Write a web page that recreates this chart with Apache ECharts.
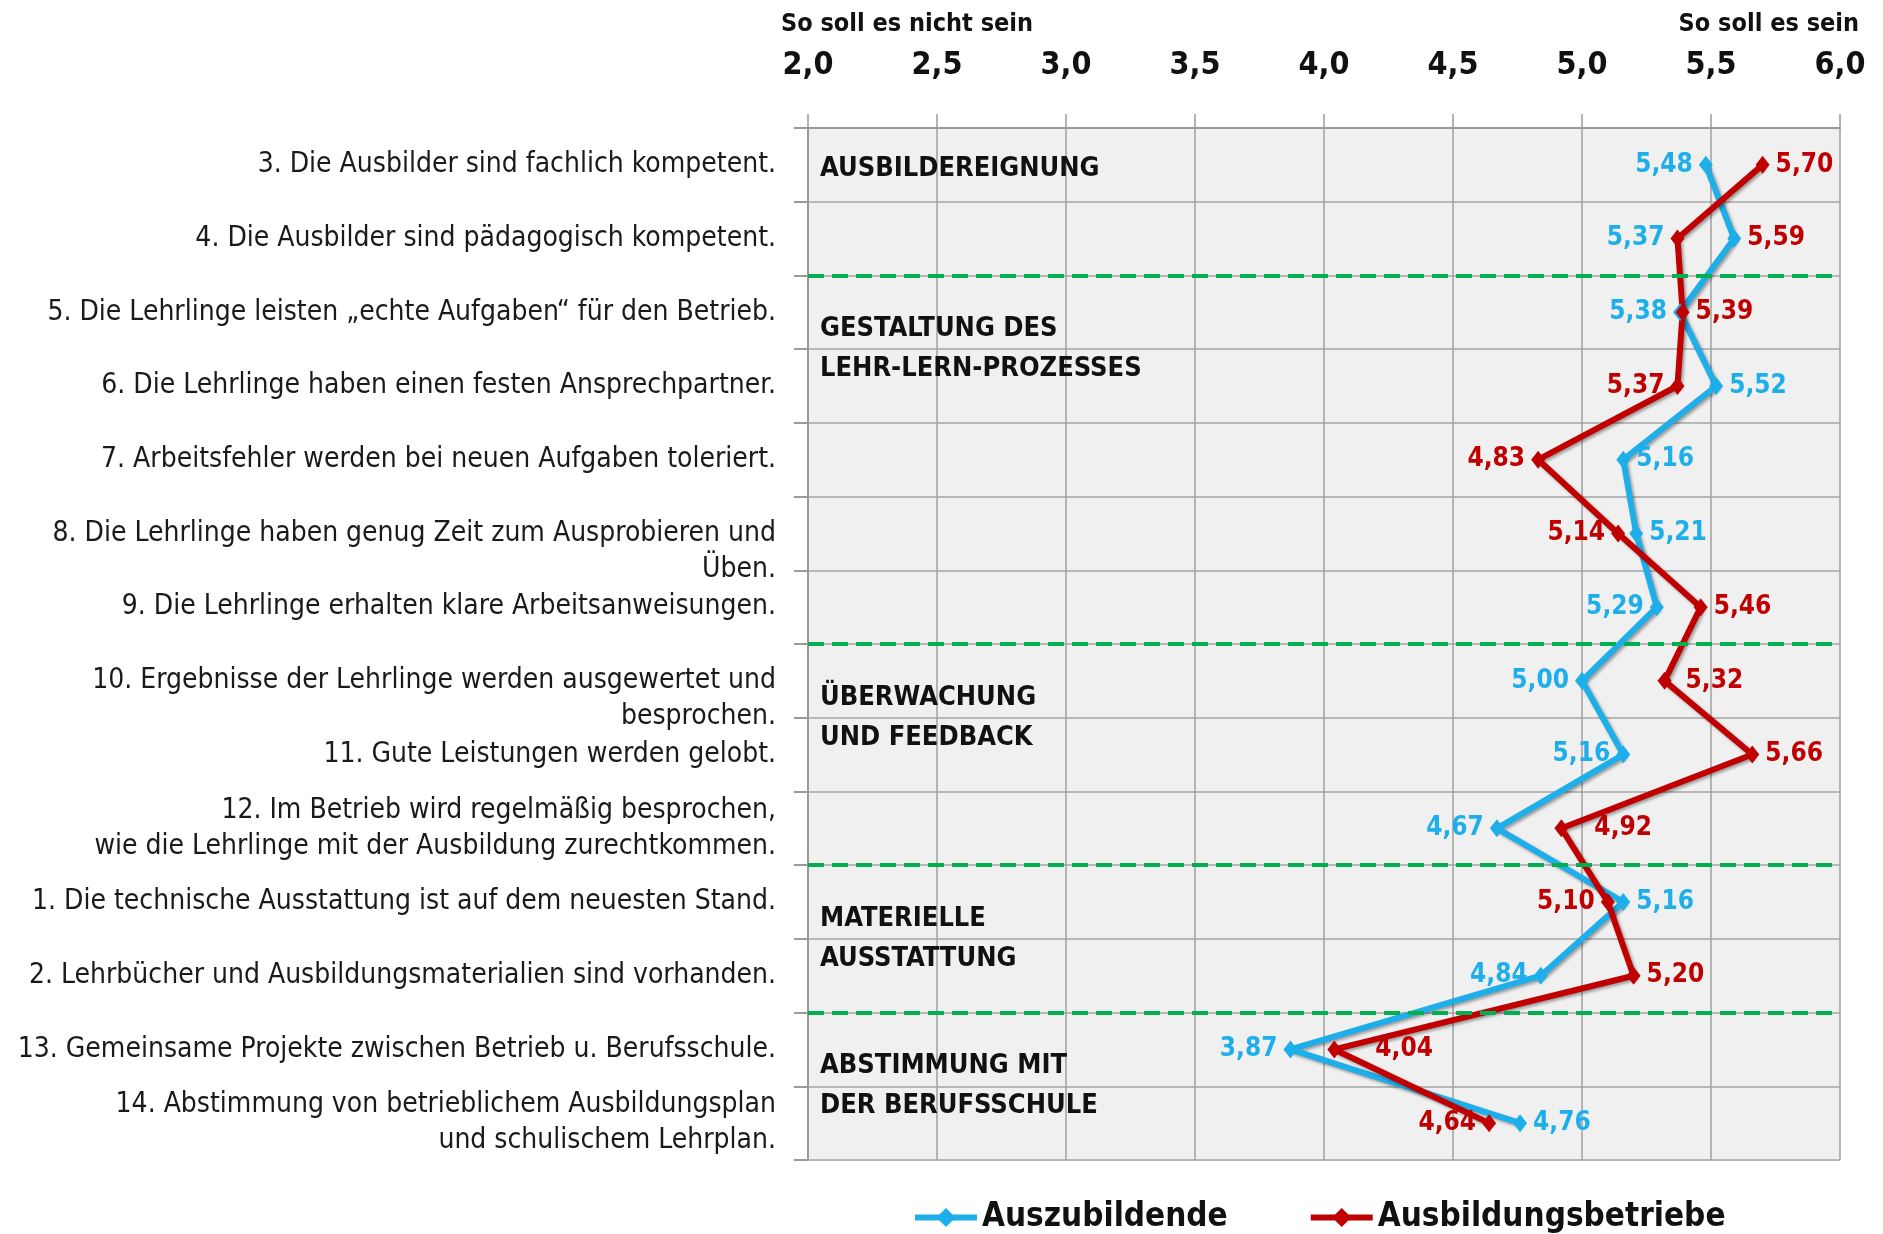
<!DOCTYPE html>
<html>
<head>
<meta charset="utf-8">
<script src="https://cdn.jsdelivr.net/npm/echarts@6/dist/echarts.min.js"></script>
<style>
  html, body { margin: 0; padding: 0; background: #fff; }
  #chart { width: 1883px; height: 1234px; }
</style>
</head>
<body>
<div id="chart"></div>
<script>
// Fragen (von oben nach unten)
const categories = [
  '3. Die Ausbilder sind fachlich kompetent.',
  '4. Die Ausbilder sind pädagogisch kompetent.',
  '5. Die Lehrlinge leisten „echte Aufgaben“ für den Betrieb.',
  '6. Die Lehrlinge haben einen festen Ansprechpartner.',
  '7. Arbeitsfehler werden bei neuen Aufgaben toleriert.',
  '\n8. Die Lehrlinge haben genug Zeit zum Ausprobieren und\nÜben.',
  '9. Die Lehrlinge erhalten klare Arbeitsanweisungen.',
  '\n10. Ergebnisse der Lehrlinge werden ausgewertet und\nbesprochen.',
  '11. Gute Leistungen werden gelobt.',
  '12. Im Betrieb wird regelmäßig besprochen,\nwie die Lehrlinge mit der Ausbildung zurechtkommen.',
  '1. Die technische Ausstattung ist auf dem neuesten Stand.',
  '2. Lehrbücher und Ausbildungsmaterialien sind vorhanden.',
  '13. Gemeinsame Projekte zwischen Betrieb u. Berufsschule.',
  '14. Abstimmung von betrieblichem Ausbildungsplan\nund schulischem Lehrplan.'
];

const auszubildende = [5.48, 5.59, 5.38, 5.52, 5.16, 5.21, 5.29, 5.00, 5.16, 4.67, 5.16, 4.84, 3.87, 4.76];
const betriebe      = [5.70, 5.37, 5.39, 5.37, 4.83, 5.14, 5.46, 5.32, 5.66, 4.92, 5.10, 5.20, 4.04, 4.64];

const seriesNames = ['Auszubildende', 'Ausbildungsbetriebe'];
const sectionNames = [
  'AUSBILDEREIGNUNG',
  'GESTALTUNG DES\nLEHR-LERN-PROZESSES',
  'ÜBERWACHUNG\nUND FEEDBACK',
  'MATERIELLE\nAUSSTATTUNG',
  'ABSTIMMUNG MIT\nDER BERUFSSCHULE'
];
const sectionBreaks = [2, 7, 10, 12];   // Grenzen zwischen den Zeilen
const sectionAnchors = [0.55, 3, 8, 11, 13];

const FONT = '"DejaVu Sans Condensed", "DejaVu Sans", sans-serif';
const BLUE = '#1EAEEA';
const RED = '#C00000';
const swapLabelColors = [1]; // im Original vertauschte Beschriftungsfarben
// etwas mehr Abstand bei einzelnen Beschriftungen (wie im Original)
const labelGap = { 1: { 9: 26, 12: 34, 7: 14 } };

const fmt = (v, d) => Number(v).toFixed(d).replace('.', ',');

function buildData(values, other, color, otherColor, s) {
  return values.map((v, i) => ({
    value: v,
    label: {
      position: v <= other[i] ? 'left' : 'right',
      distance: (labelGap[s] && labelGap[s][i]) || 6,
      color: swapLabelColors.includes(i) ? otherColor : color
    }
  }));
}

function lineSeries(s, values, other, color, otherColor) {
  return {
    name: seriesNames[s],
    type: 'line',
    data: buildData(values, other, color, otherColor, s),
    symbol: 'diamond',
    symbolSize: [14, 18],
    itemStyle: { color: color },
    lineStyle: {
      width: 6, color: color,
      shadowBlur: 3, shadowColor: 'rgba(0,0,0,0.35)', shadowOffsetX: 2, shadowOffsetY: 2
    },
    label: {
      show: true,
      fontFamily: FONT,
      fontSize: 26,
      fontWeight: 'bold',
      formatter: p => fmt(p.value, 2)
    },
    z: 3
  };
}

const chart = echarts.init(document.getElementById('chart'));

chart.setOption({
  animation: false,
  backgroundColor: '#fff',
  textStyle: { fontFamily: FONT },
  grid: {
    left: 808, right: 43, top: 128, bottom: 74,
    show: true, backgroundColor: '#f0f0f0', borderWidth: 0,
    outerBoundsMode: 'none'
  },
  legend: {
    left: 907, top: 1196,
    itemWidth: 62, itemHeight: 24, itemGap: 80,
    lineStyle: { width: 6 },
    textStyle: { fontFamily: FONT, fontSize: 33, fontWeight: 'bold', color: '#111' },
    data: seriesNames
  },
  xAxis: {
    type: 'value',
    position: 'top',
    min: 2, max: 6, interval: 0.5,
    axisLine: { show: true, lineStyle: { color: '#9a9a9a', width: 2 } },
    axisTick: { show: true, length: 14, lineStyle: { color: '#9a9a9a', width: 1.5 } },
    axisLabel: {
      margin: 46,
      fontFamily: FONT, fontSize: 32, fontWeight: 'bold', color: '#111',
      formatter: v => fmt(v, 1)
    },
    splitLine: { show: true, lineStyle: { color: '#a0a0a0', width: 1.5 } }
  },
  yAxis: [{
    type: 'category',
    inverse: true,
    data: categories,
    axisLine: { show: true, lineStyle: { color: '#9a9a9a', width: 2 } },
    axisTick: { show: true, length: 14, lineStyle: { color: '#9a9a9a', width: 2 } },
    axisLabel: {
      margin: 32,
      fontFamily: FONT, fontSize: 28, color: '#1a1a1a', lineHeight: 36,
      align: 'right'
    },
    splitLine: { show: true, lineStyle: { color: '#b8b8b8', width: 2 } }
  }, {
    type: 'value',
    show: false,
    inverse: true,
    min: 0, max: categories.length,
    splitLine: { show: false }
  }],
  series: [
    lineSeries(0, auszubildende, betriebe, BLUE, RED),
    lineSeries(1, betriebe, auszubildende, RED, BLUE),
    {
      name: 'Abschnitte',
      type: 'line',
      yAxisIndex: 1,
      data: [],
      silent: true,
      markLine: {
        silent: true,
        symbol: 'none',
        label: { show: false },
        lineStyle: { color: '#00B050', width: 4, type: [16, 8] },
        data: sectionBreaks.map(b => ({ yAxis: b }))
      }
    }
  ]
});

// Abschnittstitel und Kopfzeilen
const x0 = chart.convertToPixel({ xAxisIndex: 0 }, 2);
const x1 = chart.convertToPixel({ xAxisIndex: 0 }, 6);
chart.setOption({
  graphic: sectionNames.map((t, i) => ({
    type: 'text',
    x: x0 + 12,
    y: chart.convertToPixel({ yAxisIndex: 1 }, sectionAnchors[i]),
    style: {
      text: t, fontFamily: FONT, fontSize: 27, fontWeight: 'bold',
      fill: '#111', lineHeight: 40, verticalAlign: 'middle', align: 'left'
    },
    z: 10
  })).concat([{
    type: 'text', x: x0 - 27, y: 24,
    style: { text: 'So soll es nicht sein', fontFamily: FONT, fontSize: 25, fontWeight: 'bold',
      fill: '#111', verticalAlign: 'middle', align: 'left' }
  }, {
    type: 'text', x: x1 + 19, y: 24,
    style: { text: 'So soll es sein', fontFamily: FONT, fontSize: 25, fontWeight: 'bold',
      fill: '#111', verticalAlign: 'middle', align: 'right' }
  }])
});
</script>
</body>
</html>
